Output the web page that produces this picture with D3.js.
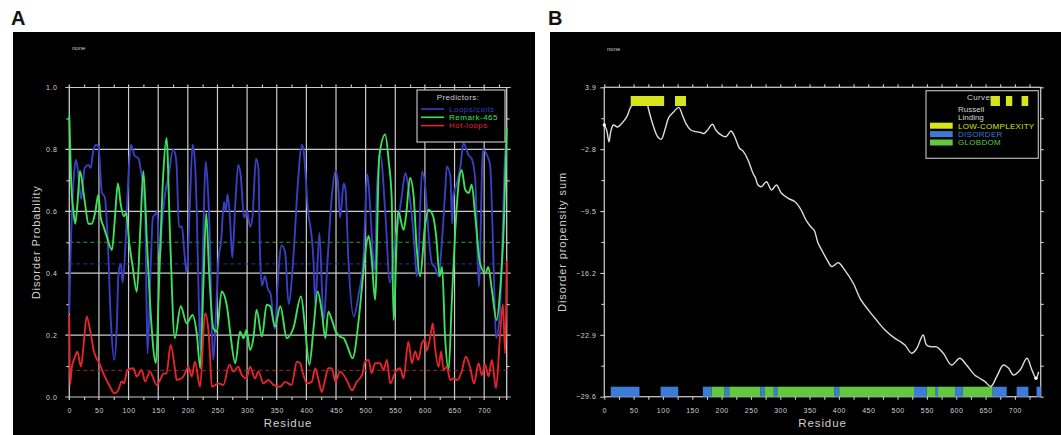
<!DOCTYPE html>
<html>
<head>
<meta charset="utf-8">
<script src="https://cdn.jsdelivr.net/npm/d3@7"></script>
<style>
  body { margin: 0; background: #fff; }
  svg { display: block; font-family: "Liberation Sans", Arial, sans-serif; }
  .tick text { fill: #d2d2d2; font-size: 7px; }
  .tick line { stroke: #cdcdcd; stroke-width: 1.1; }
  .domain { display: none; }
</style>
</head>
<body>
<svg id="chart" width="1061" height="435"></svg>
<script>
// ---- panel A : DisEMBL style probabilities ----
var coilsRes = [0,2,5,8,11,14,20,26,32,36,40,45,49,55,60,65,70,76,80,83,87,90,95,100,104,110,117,120,128,130,132,137,141,145,148,153,156,162,168,175,178,181,185,190,194,198,203,208,212,215,218,221,224,227,230,233,238,240,243,247,252,256,261,264,267,271,275,280,285,289,295,300,305,309,315,319,322,325,330,335,340,344,347,352,358,364,370,378,386,392,395,404,406,412,415,422,429,436,443,449,453,457,463,466,471,480,488,496,503,508,513,516,519,525,533,541,550,556,561,567,572,578,584,586,589,595,601,606,612,617,623,629,634,637,643,646,648,654,660,665,674,679,685,691,698,705,710,716,720,726,732,736,738];
var coils    = [0.27,0.45,0.62,0.72,0.767,0.74,0.64,0.74,0.75,0.74,0.79,0.815,0.81,0.66,0.645,0.50,0.25,0.12,0.22,0.40,0.43,0.37,0.50,0.72,0.815,0.78,0.77,0.74,0.60,0.35,0.14,0.40,0.58,0.59,0.60,0.45,0.55,0.66,0.72,0.80,0.79,0.75,0.55,0.55,0.47,0.40,0.60,0.815,0.76,0.60,0.35,0.15,0.35,0.60,0.76,0.70,0.45,0.25,0.12,0.25,0.45,0.50,0.63,0.60,0.655,0.58,0.45,0.62,0.75,0.72,0.58,0.60,0.55,0.58,0.77,0.74,0.45,0.36,0.39,0.35,0.33,0.25,0.22,0.38,0.49,0.47,0.30,0.45,0.70,0.815,0.80,0.58,0.56,0.44,0.30,0.53,0.25,0.45,0.65,0.73,0.70,0.58,0.69,0.67,0.44,0.26,0.33,0.44,0.72,0.60,0.44,0.41,0.67,0.78,0.60,0.37,0.50,0.58,0.65,0.724,0.68,0.584,0.443,0.39,0.44,0.729,0.67,0.53,0.43,0.42,0.39,0.51,0.66,0.745,0.713,0.56,0.65,0.69,0.745,0.82,0.78,0.77,0.70,0.357,0.80,0.78,0.75,0.42,0.19,0.26,0.58,0.815,0.78];

var remarkRes = [0,3,7,10,14,18,24,27,32,38,44,49,53,58,63,72,77,82,87,92,96,101,107,114,120,125,131,138,146,152,158,164,170,178,188,198,208,215,221,226,231,236,243,249,257,266,272,280,288,294,299,305,311,316,325,333,339,347,356,367,378,391,398,405,412,419,426,432,437,443,450,457,463,470,478,488,495,500,505,510,516,523,533,539,544,547,555,564,568,575,581,586,592,600,606,614,619,625,629,634,640,645,651,657,662,668,674,679,685,693,702,707,713,721,727,733,737,738];
var remark465 = [0.91,0.70,0.60,0.56,0.63,0.73,0.66,0.62,0.56,0.56,0.60,0.654,0.58,0.55,0.52,0.475,0.58,0.69,0.62,0.584,0.595,0.50,0.42,0.34,0.55,0.73,0.50,0.25,0.11,0.40,0.70,0.837,0.52,0.19,0.293,0.238,0.265,0.206,0.093,0.35,0.594,0.40,0.222,0.211,0.341,0.293,0.20,0.109,0.211,0.19,0.217,0.152,0.195,0.282,0.195,0.298,0.293,0.228,0.293,0.19,0.222,0.325,0.22,0.104,0.22,0.341,0.276,0.19,0.276,0.249,0.21,0.195,0.19,0.16,0.125,0.244,0.38,0.476,0.52,0.45,0.314,0.778,0.848,0.76,0.638,0.249,0.60,0.54,0.583,0.708,0.648,0.486,0.39,0.551,0.605,0.583,0.519,0.39,0.42,0.195,0.087,0.292,0.53,0.691,0.734,0.67,0.659,0.686,0.583,0.432,0.40,0.42,0.346,0.249,0.346,0.551,0.80,0.87];

var hotRes = [0,1.2,4,9.6,13.6,19.8,24.8,29.3,35,41.7,47.3,50.7,57.5,68.7,76,82.8,88.4,92.4,98,108,113.7,122,128,136,147.5,160,164,171,178.5,181,192.5,201,206.6,212,220.7,229,234.7,237.5,240.4,251.6,260,270,277,285,291,299,305,313.5,319,327.6,336,344.5,356,364,375,384,389.5,395,401,409,415,420,426,432,437,443,449,457,468,477,485,494,499,505,510,516,524.5,530,536,541.4,550,558,564,572,578,583.6,589,595,600.5,603,609,613.4,617,623,627.5,631.4,637,642.6,648,655,662,669,676,683,690.5,696,701.7,707.4,713,720,727,731.6,735.5,738];
var hotLoops = [0.265,0.039,0.093,0.13,0.146,0.098,0.184,0.26,0.217,0.146,0.12,0.109,0.076,0.033,0.012,0.023,0.05,0.044,0.087,0.093,0.066,0.087,0.05,0.082,0.039,0.076,0.076,0.168,0.087,0.055,0.066,0.098,0.066,0.114,0.033,0.271,0.217,0.13,0.033,0.044,0.039,0.104,0.082,0.098,0.071,0.06,0.098,0.06,0.082,0.044,0.055,0.039,0.033,0.049,0.039,0.114,0.109,0.071,0.044,0.049,0.093,0.06,0.016,0.06,0.093,0.093,0.049,0.082,0.055,0.022,0.049,0.071,0.114,0.12,0.077,0.109,0.109,0.087,0.12,0.044,0.08,0.093,0.06,0.179,0.109,0.147,0.12,0.174,0.185,0.15,0.195,0.238,0.163,0.098,0.147,0.087,0.098,0.055,0.06,0.055,0.082,0.13,0.098,0.044,0.109,0.071,0.104,0.066,0.12,0.028,0.206,0.30,0.14,0.44];

var predictors = ["Loops/coils", "Remark-465", "Hot-loops"];
var thresholds = [0.43, 0.5, 0.086];
var probTicks = [0, 0.2, 0.4, 0.6, 0.8, 1.0];
var residueTicks = [0, 50, 100, 150, 200, 250, 300, 350, 400, 450, 500, 550, 600, 650, 700];

// ---- panel B : GlobPlot style propensity sum ----
var sumRes = [0,4,8,11,15.5,22.5,30,38.5,45.5,55,65,73,75,84,91,97,104,110,118.5,127,133,139,147.5,156,164.5,170,176,184.5,190,199,207.5,216,222,230.5,236,245,253.5,258,262,268,276.5,285,293.5,302,313.5,325,334,345,352,358,364,370.5,380,388,399,410,424.5,436,450,464,478.5,495.5,504,512.5,524,532.5,543.5,549.5,558,566.5,578,592,606,617.5,631.5,640,649,659,669,680.5,689,697.5,709,720.5,729,736,740.5];
var propensitySum = [-0.18,-0.72,-1.99,-0.9,-0.18,-0.4,0.0,0.72,1.8,2.3,2.35,2.2,1.63,-0.37,-1.45,-1.73,-0.55,0.65,1.26,1.73,0.9,0.0,-0.72,-0.9,-1.0,-1.1,-0.72,-0.1,-0.72,-1.26,-1.45,-0.83,-1.4,-2.7,-2.96,-3.97,-5.41,-5.95,-6.68,-6.86,-6.32,-7.22,-6.68,-7.58,-8.12,-8.49,-9.2,-10.6,-11.2,-11.6,-12.9,-13.7,-14.8,-15.52,-15.09,-15.9,-17.32,-18.95,-20.2,-21.3,-22.38,-23.28,-23.6,-24.0,-24.9,-24.4,-22.92,-24.0,-24.2,-24.2,-24.9,-26.17,-25.44,-26.17,-27.25,-27.6,-27.97,-28.5,-27.43,-26.17,-26.5,-27.25,-26.7,-25.44,-26.7,-27.6,-26.9];

var lowComplexity = [[45,102],[120.5,139.3],[658.6,674.5],[684.7,695.5],[711.4,722.7]];
var disorderSegs = [[11,60],[96,126],[168,183],[205,213],[266,273],[289,295],[392,400.5],[528,549.5],[565,569],[598,611],[662,686],[703,723],[737,744]];
var globdomSegs = [[183,205],[213,266],[273,289],[295,392],[400.5,528],[549.5,565],[569,598],[611,662]];
var sumTicks = [3.9, -2.8, -9.5, -16.2, -22.9, -29.6];
var sumMinor = [0.55, -6.15, -12.85, -19.55, -26.25];
var legendB = ["LOW-COMPLEXITY", "DISORDER", "GLOBDOM"];

var colA = ["#3a3fc2", "#3ee05a", "#e2262a"];
var dashCol = ["#2e3196", "#2b9e42", "#a52222"];
var colB = ["#d6e41c", "#3d7bd8", "#62c83f"];
var gridCol = "#cbcbcb";
var noLabel = function() { return ""; };

var svg = d3.select("#chart");

svg.append("text").attr("x", 11).attr("y", 25).text("A")
  .style("font-size", "20px").style("font-weight", "bold").attr("fill", "#111");
svg.append("text").attr("x", 548).attr("y", 25).text("B")
  .style("font-size", "20px").style("font-weight", "bold").attr("fill", "#111");

svg.append("rect").attr("x", 13).attr("y", 32).attr("width", 522).attr("height", 403).attr("fill", "#000");
svg.append("rect").attr("x", 550).attr("y", 32).attr("width", 511).attr("height", 403).attr("fill", "#000");

function plain(g) { g.select(".domain").remove(); }

// ======== panel A ========
var xA = d3.scaleLinear().domain([0, 738]).range([69.3, 506.7]);
var yA = d3.scaleLinear().domain([0, 1]).range([397, 87.5]);
var gA = svg.append("g");

gA.append("text").attr("x", 72).attr("y", 50).text("none")
  .attr("fill", "#ccc").style("font-size", "6px");

// grid
gA.selectAll(".vg").data(residueTicks.slice(1)).enter().append("line")
  .attr("x1", function(d) { return xA(d); }).attr("x2", function(d) { return xA(d); })
  .attr("y1", yA(1) - 3).attr("y2", yA(0) + 3)
  .attr("stroke", gridCol).attr("stroke-width", 1.2);
gA.selectAll(".hg").data(probTicks).enter().append("line")
  .attr("x1", xA(0) - 4).attr("x2", xA(738) + 4)
  .attr("y1", function(d) { return yA(d); }).attr("y2", function(d) { return yA(d); })
  .attr("stroke", gridCol).attr("stroke-width", 1.2);
gA.append("line").attr("x1", xA(0)).attr("x2", xA(0)).attr("y1", yA(1) - 3).attr("y2", yA(0) + 3)
  .attr("stroke", gridCol).attr("stroke-width", 1.3);
gA.append("line").attr("x1", xA(738)).attr("x2", xA(738)).attr("y1", yA(1)).attr("y2", yA(0) + 3)
  .attr("stroke", gridCol).attr("stroke-width", 1.3);

// axes
var minorRes = d3.range(25, 738, 50);
gA.append("g").attr("transform", "translate(0," + yA(0) + ")")
  .call(d3.axisBottom(xA).tickValues(residueTicks).tickSize(0).tickPadding(11).tickFormat(d3.format("d")))
  .call(plain);
gA.append("g").attr("transform", "translate(0," + yA(0) + ")")
  .call(d3.axisBottom(xA).tickValues(minorRes).tickSize(3).tickFormat(noLabel)).call(plain);
gA.append("g").attr("transform", "translate(0," + yA(1) + ")")
  .call(d3.axisTop(xA).tickValues(minorRes).tickSize(3).tickFormat(noLabel)).call(plain);
gA.append("g").attr("transform", "translate(" + xA(0) + ",0)")
  .call(d3.axisLeft(yA).tickValues(probTicks).tickSize(0).tickPadding(12).tickFormat(d3.format(".1f")))
  .call(plain);
gA.append("g").attr("transform", "translate(" + xA(0) + ",0)")
  .call(d3.axisLeft(yA).tickValues([0.1, 0.3, 0.5, 0.7, 0.9]).tickSize(3).tickFormat(noLabel)).call(plain);
gA.append("g").attr("transform", "translate(" + xA(738) + ",0)")
  .call(d3.axisRight(yA).tickValues([0.1, 0.3, 0.5, 0.7, 0.9]).tickSize(3).tickFormat(noLabel)).call(plain);

// thresholds
gA.selectAll(".thr").data(thresholds).enter().append("line")
  .attr("x1", xA(0)).attr("x2", xA(738))
  .attr("y1", function(d) { return yA(d); }).attr("y2", function(d) { return yA(d); })
  .attr("stroke", function(d, i) { return dashCol[i]; })
  .attr("stroke-width", 1).attr("stroke-dasharray", "4,3");

// curves
var seriesA = [
  { res: coilsRes, val: coils },
  { res: remarkRes, val: remark465 },
  { res: hotRes, val: hotLoops }
];
var lineA = d3.line()
  .x(function(d) { return xA(d[0]); })
  .y(function(d) { return yA(d[1]); })
  .curve(d3.curveMonotoneX);
seriesA.forEach(function(s, i) {
  gA.append("path")
    .datum(d3.zip(s.res, s.val))
    .attr("d", lineA)
    .attr("fill", "none")
    .attr("stroke", colA[i])
    .attr("stroke-width", 1.9)
    .attr("stroke-linejoin", "round");
});

// legend A
var legA = gA.append("g").attr("transform", "translate(417,90)");
legA.append("rect").attr("width", 88).attr("height", 52)
  .attr("fill", "#000").attr("stroke", "#bdbdbd").attr("stroke-width", 1.2);
legA.append("text").attr("x", 41).attr("y", 10).attr("text-anchor", "middle")
  .text("Predictors:").attr("fill", "#d5d5d5").style("font-size", "8px").style("letter-spacing", "0.4px");
predictors.forEach(function(p, i) {
  var yy = 19 + i * 8.3;
  legA.append("line").attr("x1", 4).attr("x2", 27).attr("y1", yy).attr("y2", yy)
    .attr("stroke", colA[i]).attr("stroke-width", 1.6);
  legA.append("text").attr("x", 32).attr("y", yy + 2.7).text(p)
    .attr("fill", colA[i]).style("font-size", "8px").style("letter-spacing", "0.5px");
});

gA.append("text").attr("x", (xA(0) + xA(738)) / 2).attr("y", 427).attr("text-anchor", "middle")
  .text("Residue").attr("fill", "#cfcfcf").style("font-size", "11.5px").style("letter-spacing", "0.9px");
gA.append("text").attr("transform", "translate(40," + yA(0.5) + ") rotate(-90)")
  .attr("text-anchor", "middle").text("Disorder Probability")
  .attr("fill", "#cfcfcf").style("font-size", "11px").style("letter-spacing", "0.9px");

// ======== panel B ========
var xB = d3.scaleLinear().domain([0, 744]).range([604.3, 1040.7]);
var yB = d3.scaleLinear().domain([-29.6, 3.9]).range([396.7, 87.3]);
var gB = svg.append("g");

gB.append("text").attr("x", 607).attr("y", 51).text("none")
  .attr("fill", "#ccc").style("font-size", "6px");

var axCol = "#c4c4c4";
gB.append("rect").attr("x", xB(0)).attr("y", yB(3.9))
  .attr("width", xB(744) - xB(0)).attr("height", yB(-29.6) - yB(3.9))
  .attr("fill", "none").attr("stroke", axCol).attr("stroke-width", 1.3);

var allRes = d3.range(0, 744, 25);
gB.append("g").attr("transform", "translate(0," + yB(-29.6) + ")")
  .call(d3.axisBottom(xB).tickValues(residueTicks).tickSize(0).tickPadding(11).tickFormat(d3.format("d")))
  .call(plain);
gB.append("g").attr("transform", "translate(0," + yB(-29.6) + ")")
  .call(d3.axisBottom(xB).tickValues(allRes).tickSize(3).tickFormat(noLabel)).call(plain);
gB.append("g").attr("transform", "translate(0," + yB(3.9) + ")")
  .call(d3.axisTop(xB).tickValues(allRes).tickSize(3).tickFormat(noLabel)).call(plain);
gB.append("g").attr("transform", "translate(" + xB(0) + ",0)")
  .call(d3.axisLeft(yB).tickValues(sumTicks).tickSize(4).tickPadding(4).tickFormat(d3.format(".1f")))
  .call(plain);
gB.append("g").attr("transform", "translate(" + xB(0) + ",0)")
  .call(d3.axisLeft(yB).tickValues(sumMinor).tickSize(3).tickFormat(noLabel)).call(plain);
gB.append("g").attr("transform", "translate(" + xB(744) + ",0)")
  .call(d3.axisRight(yB).tickValues(sumTicks.concat(sumMinor)).tickSize(3).tickFormat(noLabel)).call(plain);

// legend B
var legB = gB.append("g").attr("transform", "translate(926,90.7)");
legB.append("rect").attr("width", 112.3).attr("height", 67.6)
  .attr("fill", "#000").attr("stroke", "#b5b5b5").attr("stroke-width", 1.2);
legB.append("text").attr("x", 41).attr("y", 9).text("Curves")
  .attr("fill", "#d5d5d5").style("font-size", "8px").style("letter-spacing", "0.4px");
legB.append("text").attr("x", 32).attr("y", 21).text("Russell")
  .attr("fill", "#d5d5d5").style("font-size", "8px");
legB.append("text").attr("x", 32).attr("y", 29).text("Linding")
  .attr("fill", "#d5d5d5").style("font-size", "8px");
legendB.forEach(function(name, i) {
  var yy = 32 + i * 8.4;
  legB.append("rect").attr("x", 4).attr("y", yy).attr("width", 22.7).attr("height", 6)
    .attr("fill", colB[i]);
  legB.append("text").attr("x", 32).attr("y", yy + 6).text(name)
    .attr("fill", colB[i]).style("font-size", "8px").style("letter-spacing", "0.3px");
});

// domain bars
var barBase = yB(-29.6);
gB.selectAll(".dis").data(disorderSegs).enter().append("rect")
  .attr("x", function(d) { return xB(d[0]); })
  .attr("width", function(d) { return xB(d[1]) - xB(d[0]); })
  .attr("y", barBase - 10).attr("height", 10).attr("fill", colB[1]);
gB.selectAll(".glob").data(globdomSegs).enter().append("rect")
  .attr("x", function(d) { return xB(d[0]); })
  .attr("width", function(d) { return xB(d[1]) - xB(d[0]); })
  .attr("y", barBase - 10).attr("height", 10).attr("fill", colB[2]);

// propensity curve
var lineB = d3.line()
  .x(function(d) { return xB(d[0]); })
  .y(function(d) { return yB(d[1]); })
  .curve(d3.curveCatmullRom);
var sumData = d3.zip(sumRes, propensitySum);
gB.append("path").datum(sumData).attr("d", lineB)
  .attr("fill", "none").attr("stroke", "#dcdcdc").attr("stroke-width", 1.4);
gB.selectAll(".endpt").data([sumData[0], sumData[sumData.length - 2]]).enter().append("circle")
  .attr("cx", function(d) { return xB(d[0]); }).attr("cy", function(d) { return yB(d[1]); })
  .attr("r", 1.7).attr("fill", "#fff");

// low complexity segments
var lcTop = yB(3.9) + 8.7;
gB.selectAll(".lc").data(lowComplexity).enter().append("rect")
  .attr("x", function(d) { return xB(d[0]); })
  .attr("width", function(d) { return xB(d[1]) - xB(d[0]); })
  .attr("y", lcTop).attr("height", 10).attr("fill", colB[0]);

gB.append("text").attr("x", (xB(0) + xB(744)) / 2).attr("y", 427).attr("text-anchor", "middle")
  .text("Residue").attr("fill", "#cfcfcf").style("font-size", "11.5px").style("letter-spacing", "0.9px");
gB.append("text").attr("transform", "translate(566," + yB(-12.85) + ") rotate(-90)")
  .attr("text-anchor", "middle").text("Disorder propensity sum")
  .attr("fill", "#cfcfcf").style("font-size", "11px").style("letter-spacing", "0.9px");

svg.selectAll(".tick text").style("letter-spacing", "0.5px");
</script>
</body>
</html>
